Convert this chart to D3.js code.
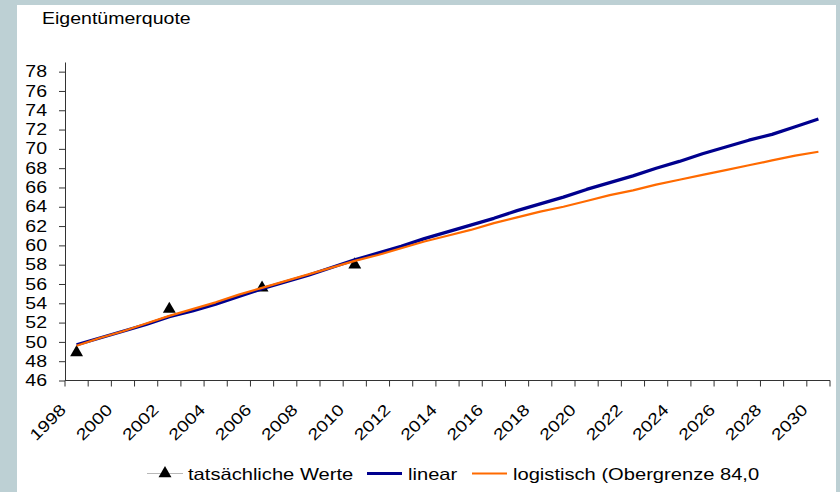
<!DOCTYPE html>
<html>
<head>
<meta charset="utf-8">
<script src="https://cdn.jsdelivr.net/npm/d3@7"></script>
<style>
  html, body { margin: 0; padding: 0; background: #fff; }
  svg { display: block; }
  text { font-family: "Liberation Sans", Arial, sans-serif; fill: #000; }
</style>
</head>
<body>
<svg id="chart" width="840" height="492"></svg>
<script>
// Jahre der Kategorienachse
const years = d3.range(1998, 2031);
// Beschriftete Jahre (jedes zweite)
const yearLabels = [1998, 2000, 2002, 2004, 2006, 2008, 2010, 2012, 2014, 2016,
  2018, 2020, 2022, 2024, 2026, 2028, 2030];
// Y-Achse
const yTicks = [46, 48, 50, 52, 54, 56, 58, 60, 62, 64, 66, 68, 70, 72, 74, 76, 78];

// tatsächliche Werte
const actualYears = [1998, 2002, 2006, 2010];
const actualValues = [48.9, 53.4, 55.6, 58.0];

// Fortschreibung linear
const linearValues = [49.7, 50.4, 51.1, 51.8, 52.6, 53.2, 53.9, 54.7, 55.5, 56.2,
  56.9, 57.7, 58.5, 59.2, 59.9, 60.7, 61.4, 62.1, 62.8, 63.6,
  64.3, 65.0, 65.8, 66.5, 67.2, 68.0, 68.7, 69.5, 70.2, 70.9,
  71.5, 72.3, 73.1];

// Fortschreibung logistisch (Obergrenze 84,0)
const logisticValues = [49.6, 50.4, 51.1, 51.9, 52.7, 53.4, 54.1, 54.9, 55.6, 56.3,
  57.0, 57.7, 58.4, 59.0, 59.7, 60.4, 61.0, 61.6, 62.3, 62.9,
  63.5, 64.0, 64.6, 65.2, 65.7, 66.3, 66.8, 67.3, 67.8, 68.3,
  68.8, 69.3, 69.7];

const legendLabels = ["tatsächliche Werte", "linear", "logistisch (Obergrenze 84,0"];
const titleText = "Eigentümerquote";

const COL_LINEAR = "#00008e";
const COL_LOGISTIC = "#ff6a00";
const SX = 1.22; // horizontale Dehnung der Schrift

const svg = d3.select("#chart");

// Rahmen und Zeichenfläche
svg.append("rect").attr("width", 840).attr("height", 492).attr("fill", "#bdd0d4");
svg.append("rect").attr("x", 17).attr("y", 5).attr("width", 819).attr("height", 487).attr("fill", "#fff");

const x = d3.scaleBand().domain(years).range([65, 830]).paddingInner(0).paddingOuter(0);
const y = d3.scaleLinear().domain([46, 79]).range([380.5, 62]);
const cx = yr => x(yr) + x.bandwidth() / 2;

// gedehnte Schrift, linksbündig
function stretch(sel) {
  sel.each(function () {
    const w = this.getComputedTextLength();
    d3.select(this).attr("textLength", w * SX).attr("lengthAdjust", "spacingAndGlyphs");
  });
}
// gedehnte Schrift, rechtsbündig am bisherigen x
function stretchEnd(sel) {
  sel.each(function () {
    const t = d3.select(this);
    const x0 = +(t.attr("x") || 0);
    const w = this.getComputedTextLength() * SX;
    t.attr("text-anchor", "start").attr("x", x0 - w)
      .attr("textLength", w).attr("lengthAdjust", "spacingAndGlyphs");
  });
}

// Titel
svg.append("text").attr("x", 42).attr("y", 24).attr("font-size", 16)
  .text(titleText).call(stretch);

// Y-Achse
const yAxis = svg.append("g").attr("transform", "translate(65,0)")
  .call(d3.axisLeft(y).tickValues(yTicks).tickSize(6).tickPadding(12).tickSizeOuter(0));
yAxis.select(".domain").attr("stroke", "#333");
yAxis.selectAll(".tick line").attr("stroke", "#333");
yAxis.selectAll(".tick text").attr("font-size", 16).attr("font-family", "Liberation Sans, Arial, sans-serif")
  .attr("fill", "#000").call(stretchEnd);

// X-Achse
const xAxisG = svg.append("g").attr("transform", "translate(0,380.5)");
xAxisG.append("line").attr("x1", 65).attr("x2", 830).attr("stroke", "#333");
const boundaries = years.map(d => x(d)).concat([x(years[years.length - 1]) + x.bandwidth()]);
xAxisG.selectAll("line.tk").data(boundaries).join("line").attr("class", "tk")
  .attr("x1", d => d).attr("x2", d => d).attr("y1", 0).attr("y2", 6).attr("stroke", "#333");
xAxisG.selectAll("text.lbl").data(yearLabels).join("text").attr("class", "lbl")
  .attr("font-size", 16)
  .attr("text-anchor", "end")
  .attr("dominant-baseline", "central")
  .attr("transform", d => `translate(${cx(d) - 13.5},26.5) rotate(-45)`)
  .text(d => d)
  .call(stretchEnd);

// tatsächliche Werte (Dreiecke)
const tri = d3.symbol().type(d3.symbolTriangle).size(72);
svg.append("g").selectAll("path").data(actualYears).join("path")
  .attr("d", tri)
  .attr("transform", (d, i) => `translate(${cx(d)},${y(actualValues[i])})`)
  .attr("fill", "#000");

// Linien
const line = d3.line().x((d, i) => cx(years[i])).y(d => y(d));
svg.append("path").datum(linearValues).attr("d", line)
  .attr("fill", "none").attr("stroke", COL_LINEAR).attr("stroke-width", 3.2).attr("stroke-linejoin", "round");
svg.append("path").datum(logisticValues).attr("d", line)
  .attr("fill", "none").attr("stroke", COL_LOGISTIC).attr("stroke-width", 2.2).attr("stroke-linejoin", "round");

// Legende
const ly = 473.5;
const leg = svg.append("g");
leg.append("line").attr("x1", 147).attr("x2", 183).attr("y1", ly).attr("y2", ly)
  .attr("stroke", "#b8b8b8").attr("stroke-width", 1.2);
leg.append("path").attr("d", tri).attr("transform", `translate(165,${ly})`).attr("fill", "#000");
leg.append("line").attr("x1", 367).attr("x2", 402).attr("y1", ly).attr("y2", ly)
  .attr("stroke", COL_LINEAR).attr("stroke-width", 3.2);
leg.append("line").attr("x1", 472).attr("x2", 507).attr("y1", ly).attr("y2", ly)
  .attr("stroke", COL_LOGISTIC).attr("stroke-width", 2.2);
const legX = [188, 408, 513];
leg.selectAll("text").data(legendLabels).join("text")
  .attr("x", (d, i) => legX[i]).attr("y", ly + 6)
  .attr("font-size", 16.5)
  .text(d => d)
  .call(stretch);
</script>
</body>
</html>
